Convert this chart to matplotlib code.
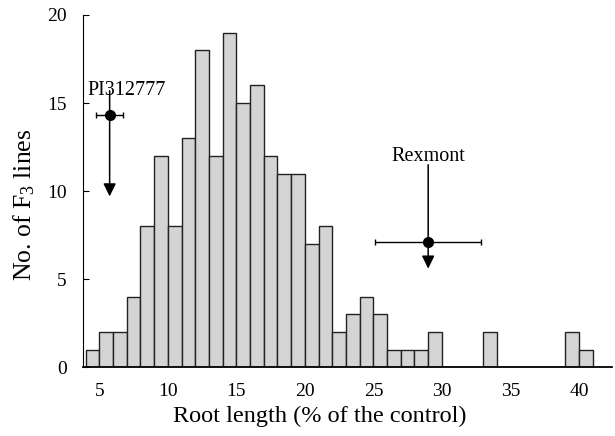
import matplotlib
matplotlib.use("Agg")
import matplotlib.pyplot as plt

# ---------------------------------------------------------------------------
# data
# ---------------------------------------------------------------------------
bin_start = 4          # left edge of first class (% of control)
counts = [1, 2, 2, 4, 8, 12, 8, 13, 18, 12, 19, 15, 16, 12, 11, 11, 7, 8,
          2, 3, 4, 3, 1, 1, 1, 2, 0, 0, 0, 2, 0, 0, 0, 0, 0, 2, 1]
bin_left = [bin_start + i for i in range(len(counts))]

x_ticks = [5, 10, 15, 20, 25, 30, 35, 40]
y_ticks = [0, 5, 10, 15, 20]

# parents: mean, sd (x), y position of the marker, arrow top/tip, label
parents = ["PI312777", "Rexmont"]
parent_x = [5.75, 29.0]
parent_xerr = [1.0, 3.85]
parent_y = [14.35, 7.1]
arrow_top = [15.7, 11.5]
arrow_tip = [9.7, 5.6]
label_x = [7.0, 29.0]
label_y = [15.45, 11.7]

# ---------------------------------------------------------------------------
# plot
# ---------------------------------------------------------------------------
plt.rcParams["font.family"] = ["Liberation Serif", "DejaVu Serif"]
plt.rcParams["mathtext.fontset"] = "custom"
plt.rcParams["mathtext.rm"] = "Liberation Serif"
plt.rcParams["mathtext.it"] = "Liberation Serif:italic"

fig = plt.figure(figsize=(6.15, 4.36), dpi=100)
ax = fig.add_axes([0.1355, 0.1576, 0.8597, 0.808])

ax.bar(bin_left, counts, width=1.0, align="edge",
       color="#d4d4d4", edgecolor="#222222", linewidth=1.0, zorder=2)

for i in range(len(parents)):
    ax.annotate("", xy=(parent_x[i], arrow_tip[i]),
                xytext=(parent_x[i], arrow_top[i]),
                arrowprops=dict(arrowstyle="-|>,head_length=0.55,head_width=0.27",
                                mutation_scale=14, color="black", lw=1.1,
                                shrinkA=0, shrinkB=0), zorder=3)
    ax.errorbar(parent_x[i], parent_y[i], xerr=parent_xerr[i], fmt="o",
                color="black", markersize=7, elinewidth=1.0, capsize=2.5,
                capthick=1.0, zorder=4)
    ax.text(label_x[i], label_y[i], parents[i], ha="center", va="baseline",
            fontsize=14.5)

ax.set_xlim(3.83, 42.42)
ax.set_ylim(0, 20)
ax.set_xticks(x_ticks)
ax.set_yticks(y_ticks)
ax.tick_params(axis="x", length=0, pad=11, labelsize=14)
ax.tick_params(axis="y", direction="in", length=4, width=0.8, pad=12,
               labelsize=14)

for s in ["top", "right"]:
    ax.spines[s].set_visible(False)
ax.spines["left"].set_linewidth(0.8)
ax.spines["bottom"].set_linewidth(1.3)

ax.set_xlabel("Root length (% of the control)", fontsize=17.5)
ax.xaxis.set_label_coords(0.448, -0.108)
ax.set_ylabel("No. of F$_3$ lines", fontsize=18.5)
ax.yaxis.set_label_coords(-0.088, 0.46)

fig.savefig("out.png", dpi=100)
